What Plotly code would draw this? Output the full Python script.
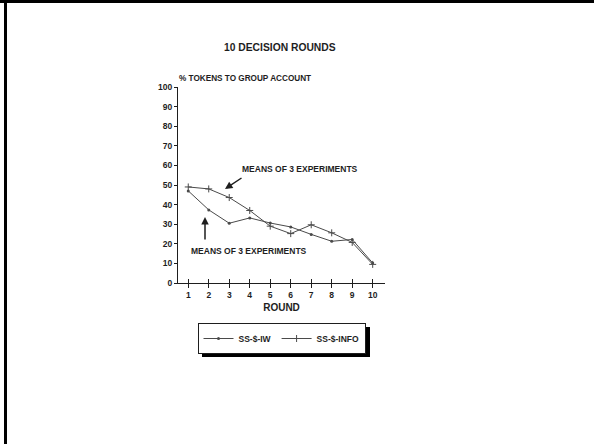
import plotly.graph_objects as go

rounds = [1, 2, 3, 4, 5, 6, 7, 8, 9, 10]
ss_iw = [47.0, 37.3, 30.5, 33.2, 30.6, 28.6, 24.8, 21.3, 22.2, 10.2]
ss_info = [49.0, 48.0, 43.6, 37.0, 29.0, 25.2, 29.7, 25.6, 20.7, 9.5]
y_ticks = [0, 10, 20, 30, 40, 50, 60, 70, 80, 90, 100]

INK = "#1e1e1e"
LINE = "#4a4a4a"
FONT = "Liberation Sans"

L, R, T, B = 178, 385, 87, 283
W, H = 594, 444


def px(xp):
    return (xp - L) / (R - L)


def py(yp):
    return (B - yp) / (B - T)


fig = go.Figure()
fig.add_trace(go.Scatter(
    x=rounds, y=ss_iw, name="<b>SS-$-IW</b>", mode="lines+markers",
    line=dict(color=LINE, width=1),
    marker=dict(symbol="circle", size=3, color=LINE),
))
fig.add_trace(go.Scatter(
    x=rounds, y=ss_info, name="<b>SS-$-INFO</b>", mode="lines+markers",
    line=dict(color=LINE, width=1),
    marker=dict(symbol="cross-thin", size=5, line=dict(color=LINE, width=1)),
))
# invisible trace anchoring the secondary (inside-tick) x axis
fig.add_trace(go.Scatter(x=[rounds[0]], y=[ss_info[0]], xaxis="x2", mode="markers",
                         marker=dict(opacity=0), showlegend=False, hoverinfo="skip"))

fig.update_layout(
    width=W, height=H,
    margin=dict(l=L, r=W - R, t=T, b=H - B),
    paper_bgcolor="white", plot_bgcolor="white",
    font=dict(family=FONT, size=8, color=INK),
    showlegend=True,
    legend=dict(
        orientation="h", x=0.5, xanchor="center", y=py(323), yanchor="top",
        bgcolor="white", bordercolor=INK, borderwidth=1,
        font=dict(family=FONT, size=8.5, color=INK),
        itemwidth=30, tracegroupgap=0,
    ),
    xaxis=dict(
        range=[0.5, 10.6], tickvals=rounds, ticktext=["<b>%d</b>" % r for r in rounds],
        showgrid=False, zeroline=False, showline=True, linecolor=INK, linewidth=1,
        ticks="outside", ticklen=4, tickcolor=INK, tickwidth=1,
        tickfont=dict(family=FONT, size=8.5, color=INK),
        title=dict(text="<b>ROUND</b>", font=dict(family=FONT, size=10, color=INK), standoff=4),
    ),
    xaxis2=dict(
        overlaying="x", range=[0.5, 10.6], tickvals=rounds, showticklabels=False,
        showgrid=False, zeroline=False, showline=False, side="bottom",
        ticks="inside", ticklen=4, tickcolor=INK, tickwidth=1,
    ),
    yaxis=dict(
        range=[0, 100], tickvals=y_ticks, ticktext=["<b>%d</b>" % v for v in y_ticks],
        showgrid=False, zeroline=False, showline=True, linecolor=INK, linewidth=1,
        ticks="outside", ticklen=3, tickcolor=INK, tickwidth=1,
        tickfont=dict(family=FONT, size=8.5, color=INK),
    ),
)

anns = [
    dict(text="<b>10 DECISION ROUNDS</b>", x=px(280), y=py(48), size=10.3, xa="center"),
    dict(text="<b>% TOKENS TO GROUP ACCOUNT</b>", x=px(177), y=py(79), size=8.2, xa="left"),
    dict(text="<b>MEANS OF 3 EXPERIMENTS</b>", x=px(300), y=py(169), size=8.5, xa="center"),
    dict(text="<b>MEANS OF 3 EXPERIMENTS</b>", x=px(249), y=py(251), size=8.5, xa="center"),
]
for a in anns:
    fig.add_annotation(text=a["text"], x=a["x"], y=a["y"], xref="paper", yref="paper",
                       showarrow=False, xanchor=a["xa"], yanchor="middle",
                       font=dict(family=FONT, size=a["size"], color=INK))

# arrows (tail offsets in pixels)
fig.add_annotation(x=px(225), y=py(189), ax=18, ay=-12, xref="paper", yref="paper",
                   axref="pixel", ayref="pixel", text="", showarrow=True, arrowhead=2,
                   arrowsize=1, arrowwidth=1.5, arrowcolor=INK)
fig.add_annotation(x=px(205), y=py(217), ax=0, ay=24, xref="paper", yref="paper",
                   axref="pixel", ayref="pixel", text="", showarrow=True, arrowhead=2,
                   arrowsize=1, arrowwidth=1.5, arrowcolor=INK)

# slide frame (top and left) and legend drop shadow
fig.add_shape(type="rect", xref="paper", yref="paper", x0=px(0), x1=px(W), y0=py(0), y1=py(3),
              fillcolor="black", line=dict(width=0), layer="above")
fig.add_shape(type="rect", xref="paper", yref="paper", x0=px(4), x1=px(7), y0=py(H), y1=py(0),
              fillcolor="black", line=dict(width=0), layer="above")
fig.add_shape(type="rect", xref="paper", yref="paper", x0=px(202), x1=px(370), y0=py(357), y1=py(327),
              fillcolor="black", line=dict(width=0), layer="below")

fig.write_html("out.html", config={"displayModeBar": False},
               post_script="document.body.style.margin='0';")
